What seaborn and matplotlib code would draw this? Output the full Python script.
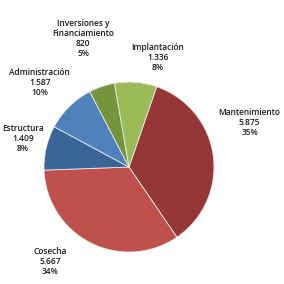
import matplotlib
matplotlib.use('Agg')
import matplotlib.pyplot as plt
import seaborn as sns

sns.set_style('white')
plt.rcParams['font.family'] = ['Open Sans', 'DejaVu Sans']

# data (clockwise from the top)
categories = ['Mantenimiento', 'Cosecha', 'Estructura', 'Administración',
              'Inversiones y\nFinanciamiento', 'Implantación']
values = [5875, 5667, 1409, 1587, 820, 1336]
value_labels = ['5.875', '5.667', '1.409', '1.587', '820', '1.336']
pct_labels = ['35%', '34%', '8%', '10%', '5%', '8%']
colors = ['#953735', '#C0504D', '#3B6597', '#4F81BD', '#77933C', '#9BBB59']

# label spots (in pie-radius units)
label_xy = [(1.42, 0.52), (-0.93, -1.11), (-1.25, 0.34),
            (-1.05, 0.99), (-0.54, 1.51), (0.34, 1.29)]

fig = plt.figure(figsize=(2.84, 2.84), dpi=100)
ax = fig.add_axes([0, 0, 1, 1])

ax.pie(values, colors=colors, startangle=71, counterclock=False,
       wedgeprops=dict(edgecolor='#E8E8E8', linewidth=0.6))

for cat, v, p, (x, y) in zip(categories, value_labels, pct_labels, label_xy):
    ax.text(x, y, f'{cat}\n{v}\n{p}', ha='center', va='center',
            fontsize=6.0, color='#1a1a1a', fontweight='semibold',
            linespacing=1.15)

ax.set_xlim(-1.518, 1.824)
ax.set_ylim(-1.376, 1.965)
ax.set_aspect('equal')
ax.axis('off')

fig.savefig('out.png', dpi=100)
